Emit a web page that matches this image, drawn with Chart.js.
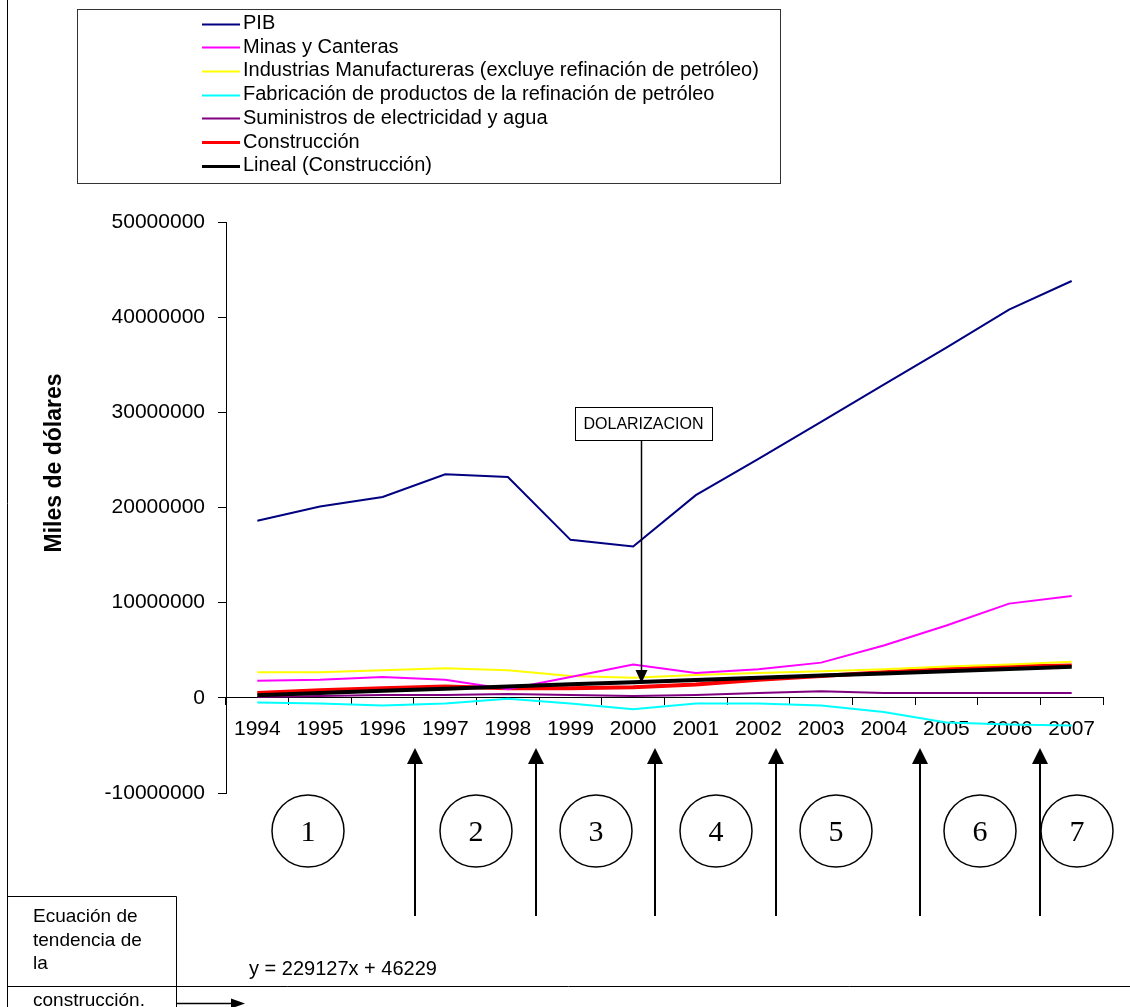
<!DOCTYPE html>
<html>
<head>
<meta charset="utf-8">
<script src="https://cdn.jsdelivr.net/npm/chart.js@4/dist/chart.umd.min.js"></script>
<style>
  html, body { margin: 0; padding: 0; background: #fff; }
  #wrap { width: 1130px; height: 1007px; }
</style>
</head>
<body>
<div id="wrap"><canvas id="chart" width="1130" height="1007"></canvas></div>
<script>
// years on the x axis
const years = ['1994', '1995', '1996', '1997', '1998', '1999', '2000',
               '2001', '2002', '2003', '2004', '2005', '2006', '2007'];

// series, miles de dólares
const pib = [18600000, 20100000, 21100000, 23500000, 23200000, 16600000, 15900000,
             21300000, 25100000, 29000000, 32900000, 36800000, 40800000, 43800000];
const minas = [1800000, 1900000, 2200000, 1900000, 900000, 2200000, 3500000,
               2600000, 3000000, 3700000, 5500000, 7600000, 9900000, 10700000];
const manufactura = [2700000, 2700000, 2900000, 3100000, 2900000, 2300000, 2100000,
                     2400000, 2600000, 2800000, 3000000, 3300000, 3500000, 3800000];
const refinacion = [-500000, -600000, -800000, -600000, -100000, -600000, -1200000,
                    -600000, -600000, -800000, -1500000, -2600000, -2800000, -2900000];
const electricidad = [100000, 200000, 300000, 300000, 400000, 300000, 200000,
                      300000, 500000, 700000, 500000, 500000, 500000, 500000];
const construccion = [500000, 800000, 1000000, 1200000, 1000000, 1000000, 1100000,
                      1400000, 1900000, 2300000, 2700000, 3000000, 3300000, 3400000];
const tendencia = [275000, 504000, 733000, 963000, 1192000, 1421000, 1650000,
                   1879000, 2108000, 2337000, 2567000, 2796000, 3025000, 3254000];

const seriesNames = [
  'PIB',
  'Minas y Canteras',
  'Industrias Manufactureras (excluye refinación de petróleo)',
  'Fabricación de productos de la refinación de petróleo',
  'Suministros de electricidad y agua',
  'Construcción',
  'Lineal (Construcción)'
];

// y axis range / step
const yMin = -10000000;
const yMax = 50000000;
const yStep = 10000000;

const periods = ['1', '2', '3', '4', '5', '6', '7'];
const equation = 'y = 229127x + 46229';

const SANS = "'Liberation Sans', Arial, sans-serif";
const SERIF = "'Liberation Serif', 'Times New Roman', serif";

function arrow(ctx, x1, y1, x2, y2, head, half, width) {
  const ang = Math.atan2(y2 - y1, x2 - x1);
  const bx = x2 - Math.cos(ang) * head, by = y2 - Math.sin(ang) * head;
  ctx.strokeStyle = '#000';
  ctx.lineWidth = width;
  ctx.beginPath();
  ctx.moveTo(x1, y1);
  ctx.lineTo(bx, by);
  ctx.stroke();
  ctx.fillStyle = '#000';
  ctx.beginPath();
  ctx.moveTo(x2, y2);
  ctx.lineTo(bx - Math.sin(ang) * half, by + Math.cos(ang) * half);
  ctx.lineTo(bx + Math.sin(ang) * half, by - Math.cos(ang) * half);
  ctx.closePath();
  ctx.fill();
}

// page furniture drawn round the chart: legend, notes, arrows
const decor = {
  id: 'decor',
  beforeDraw(chart) {
    const ctx = chart.ctx;
    ctx.save();
    ctx.fillStyle = '#fff';
    ctx.fillRect(0, 0, chart.width, chart.height);
    ctx.restore();
  },
  afterDraw(chart) {
    const ctx = chart.ctx;
    ctx.save();

    // left page border
    ctx.strokeStyle = '#000';
    ctx.lineWidth = 1;
    ctx.beginPath();
    ctx.moveTo(7.5, 0);
    ctx.lineTo(7.5, 1007);
    ctx.stroke();

    // legend
    ctx.strokeStyle = '#333';
    ctx.strokeRect(77.5, 9.5, 703, 174);
    ctx.font = '20px ' + SANS;
    ctx.textBaseline = 'middle';
    ctx.textAlign = 'left';
    chart.data.datasets.forEach((ds, i) => {
      const y = 23.5 + i * 23.7;
      ctx.strokeStyle = ds.borderColor;
      ctx.lineWidth = ds.borderWidth > 2 ? 3 : 2;
      ctx.beginPath();
      ctx.moveTo(202, Math.round(y) + 0.5);
      ctx.lineTo(240, Math.round(y) + 0.5);
      ctx.stroke();
      ctx.fillStyle = '#000';
      ctx.fillText(ds.label, 243, y);
    });

    // y title
    ctx.save();
    ctx.translate(55, 463);
    ctx.rotate(-Math.PI / 2);
    ctx.font = 'bold 23px ' + SANS;
    ctx.textAlign = 'center';
    ctx.textBaseline = 'middle';
    ctx.fillStyle = '#000';
    ctx.fillText('Miles de dólares', 0, 0);
    ctx.restore();

    // DOLARIZACION callout
    ctx.fillStyle = '#fff';
    ctx.fillRect(575, 407, 137, 33);
    ctx.strokeStyle = '#000';
    ctx.lineWidth = 1;
    ctx.strokeRect(575.5, 407.5, 137, 33);
    ctx.fillStyle = '#000';
    ctx.font = '16px ' + SANS;
    ctx.textAlign = 'center';
    ctx.fillText('DOLARIZACION', 643.5, 424.5);
    arrow(ctx, 641.5, 441, 641.5, 683, 13, 6, 1.5);

    // numbered periods
    const cx = [308, 476, 596, 716, 836, 980, 1077];
    ctx.font = '30px ' + SERIF;
    ctx.lineWidth = 1.5;
    periods.forEach((p, i) => {
      ctx.beginPath();
      ctx.arc(cx[i], 831, 36, 0, Math.PI * 2);
      ctx.stroke();
      ctx.fillText(p, cx[i], 833);
    });

    // period boundaries
    [415, 536, 655, 776, 920, 1040].forEach(x => arrow(ctx, x, 916, x, 748, 16, 8, 2));

    // trend equation
    ctx.font = '20px ' + SANS;
    ctx.textAlign = 'left';
    ctx.fillText(equation, 249, 969);

    // note box
    ctx.strokeStyle = '#000';
    ctx.lineWidth = 1;
    ctx.beginPath();
    ctx.moveTo(7.5, 896.5);
    ctx.lineTo(176.5, 896.5);
    ctx.lineTo(176.5, 1007);
    ctx.moveTo(7, 986.5);
    ctx.lineTo(1130, 986.5);
    ctx.stroke();
    ctx.font = '19px ' + SANS;
    ctx.fillText('Ecuación de', 33, 917);
    ctx.fillText('tendencia de', 33, 941);
    ctx.fillText('la', 33, 964);
    ctx.fillText('construcción.', 33, 1001);
    arrow(ctx, 177, 1003.5, 245, 1003.5, 14, 5, 1.5);

    ctx.restore();
  }
};

const styles = [
  {color: '#000080', width: 2},
  {color: '#ff00ff', width: 2},
  {color: '#ffff00', width: 2},
  {color: '#00ffff', width: 2},
  {color: '#800080', width: 2},
  {color: '#ff0000', width: 4},
  {color: '#000000', width: 4}
];
const values = [pib, minas, manufactura, refinacion, electricidad, construccion, tendencia];

const datasets = values.map((v, i) => ({
  label: seriesNames[i],
  data: v,
  borderColor: styles[i].color,
  backgroundColor: styles[i].color,
  borderWidth: styles[i].width,
  pointRadius: 0,
  tension: 0,
  fill: false,
  order: i === 6 ? -1 : i
}));

new Chart(document.getElementById('chart'), {
  type: 'line',
  data: { labels: years, datasets },
  options: {
    responsive: false,
    animation: false,
    devicePixelRatio: 1,
    layout: { padding: { left: 0, top: 222, right: 27, bottom: 214 } },
    plugins: {
      legend: { display: false },
      tooltip: { enabled: false },
      title: { display: false }
    },
    scales: {
      x: {
        type: 'category',
        offset: true,
        position: { y: 0 },
        afterFit: s => { s.height = 0; },
        grid: { offset: true, drawOnChartArea: false, drawTicks: true, tickLength: 7, color: '#000' },
        border: { color: '#000', width: 1 },
        ticks: { color: '#000', font: { family: SANS, size: 21 }, padding: 12, maxRotation: 0, autoSkip: false }
      },
      y: {
        min: yMin,
        max: yMax,
        afterFit: s => { s.width = 226; },
        grid: { drawOnChartArea: false, drawTicks: true, tickLength: 8, color: '#000' },
        border: { color: '#000', width: 1 },
        ticks: {
          stepSize: yStep,
          color: '#000',
          font: { family: SANS, size: 21 },
          padding: 13,
          callback: v => String(v)
        }
      }
    }
  },
  plugins: [decor]
});
</script>
</body>
</html>
